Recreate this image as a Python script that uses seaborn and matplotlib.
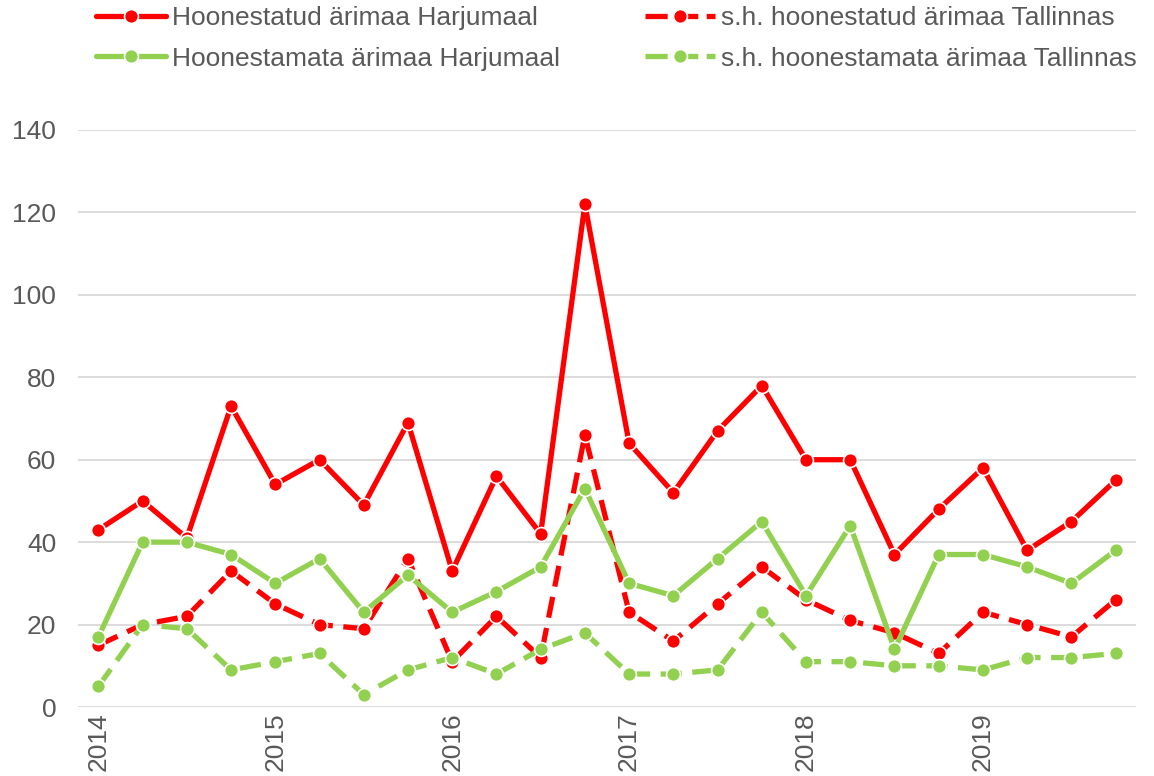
import numpy as np
import pandas as pd
import matplotlib
matplotlib.use('Agg')
import matplotlib.pyplot as plt
import seaborn as sns

YEARS = ['2014', '2015', '2016', '2017', '2018', '2019']
SERIES = ['Hoonestatud ärimaa Harjumaal', 's.h. hoonestatud ärimaa Tallinnas',
          'Hoonestamata ärimaa Harjumaal', 's.h. hoonestamata ärimaa Tallinnas']

built_harju = [43, 50, 41, 73, 54, 60, 49, 69, 33, 56, 42, 122,
               64, 52, 67, 78, 60, 60, 37, 48, 58, 38, 45, 55]
built_tln = [15, 20, 22, 33, 25, 20, 19, 36, 11, 22, 12, 66,
             23, 16, 25, 34, 26, 21, 18, 13, 23, 20, 17, 26]
unbuilt_harju = [17, 40, 40, 37, 30, 36, 23, 32, 23, 28, 34, 53,
                 30, 27, 36, 45, 27, 44, 14, 37, 37, 34, 30, 38]
unbuilt_tln = [5, 20, 19, 9, 11, 13, 3, 9, 12, 8, 14, 18,
               8, 8, 9, 23, 11, 11, 10, 10, 9, 12, 12, 13]

RED = '#ff0000'
GREEN = '#92d050'

quarters = np.arange(len(built_harju))
df = pd.concat([
    pd.DataFrame({'q': quarters, 'val': vals, 'series': name})
    for name, vals in zip(SERIES, [built_harju, built_tln, unbuilt_harju, unbuilt_tln])
])

sns.set_theme(style='white')
plt.rcParams['font.family'] = ['Liberation Sans', 'DejaVu Sans']

fig = plt.figure(figsize=(11.54, 7.76), dpi=100)
ax = fig.add_axes([0.068, 0.0889, 0.916, 0.7436])

palette = {SERIES[0]: RED, SERIES[1]: RED, SERIES[2]: GREEN, SERIES[3]: GREEN}
dashes = {SERIES[0]: '', SERIES[1]: (4, 2), SERIES[2]: '', SERIES[3]: (4, 2)}
sns.lineplot(data=df, x='q', y='val', hue='series', style='series',
             hue_order=SERIES, style_order=SERIES, palette=palette,
             dashes=dashes, markers={s: 'o' for s in SERIES},
             linewidth=3.8, markersize=10, markeredgecolor='white',
             markeredgewidth=1.2, ax=ax, legend=False)

ax.set_xlim(-0.45, 23.45)
ax.set_ylim(0, 140)
ax.set_yticks(range(0, 141, 20))
ax.set_xticks(range(0, 24, 4))
ax.set_xticklabels(YEARS, rotation=90)
ax.set_xlabel('')
ax.set_ylabel('')
ax.grid(axis='y', color='#d9d9d9', linewidth=1.3)
ax.set_axisbelow(True)
for s in ax.spines.values():
    s.set_visible(False)
ax.tick_params(axis='both', labelsize=19, colors='#595959', length=0)
ax.tick_params(axis='y', pad=16)
ax.tick_params(axis='x', pad=4)

# legend handles: line with marker, dashed ones get a short dash each side
handles = []
for s in SERIES:
    ls = '-' if dashes[s] == '' else (0, (4.2, 1.6))
    h, = ax.plot([], [], color=palette[s], linewidth=3.8, linestyle=ls,
                 marker='o', markersize=10, markeredgecolor='white',
                 markeredgewidth=1.2)
    handles.append(h)
order = [0, 2, 1, 3]
leg = fig.legend([handles[i] for i in order], [SERIES[i] for i in order],
                 ncol=2, loc='upper left', bbox_to_anchor=(0.083, 0.992),
                 borderaxespad=0, borderpad=0,
                 frameon=False, fontsize=19, handlelength=2.65,
                 handletextpad=0.25, columnspacing=3.2, labelspacing=0.62,
                 labelcolor='#595959')

fig.savefig('out.png', dpi=100)
